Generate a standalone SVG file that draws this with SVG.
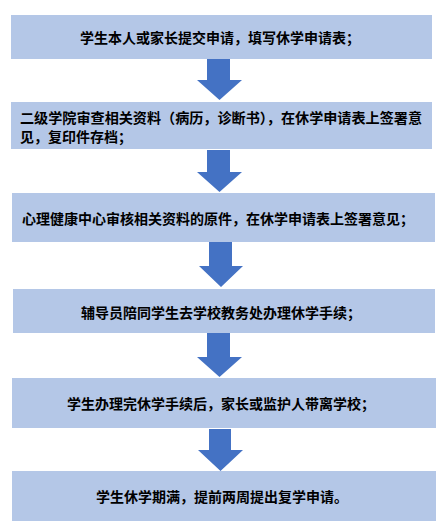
<svg xmlns="http://www.w3.org/2000/svg" width="447" height="528" viewBox="0 0 447 528">
<style>
.box{fill:#B4C7E7;}
.arr{fill:#4472C4;}
text{font-family:"Noto Sans CJK SC","Noto Sans",sans-serif;font-size:14px;font-weight:bold;fill:#000;dominant-baseline:central;}
.c{text-anchor:middle;}
</style>
<rect width="447" height="528" fill="#fff"/>
<g id="n1"><rect class="box" x="11" y="15" width="421" height="44"/><text class="c" x="220" y="37">学生本人或家长提交申请，填写休学申请表；</text></g>
<g id="n2"><rect class="box" x="11" y="102" width="421" height="47"/><text x="20" y="117" textLength="402" lengthAdjust="spacingAndGlyphs">二级学院审查相关资料（病历，诊断书），在休学申请表上签署意</text><text x="20" y="136">见，复印件存档；</text></g>
<g id="n3"><rect class="box" x="12" y="193" width="423" height="49"/><text x="22" y="218">心理健康中心审核相关资料的原件，在休学申请表上签署意见；</text></g>
<g id="n4"><rect class="box" x="13" y="289" width="422" height="44"/><text class="c" x="221" y="312">辅导员陪同学生去学校教务处办理休学手续；</text></g>
<g id="n5"><rect class="box" x="12" y="378" width="424" height="50"/><text class="c" x="221" y="403">学生办理完休学手续后，家长或监护人带离学校；</text></g>
<g id="n6"><rect class="box" x="12" y="471" width="424" height="50"/><text class="c" x="222" y="496">学生休学期满，提前两周提出复学申请。</text></g>
<g id="connectors">
<polygon class="arr" points="207,59 230,59 230,80 242,80 219.5,100 197,80 207,80"/>
<polygon class="arr" points="207,150 230,150 230,172 242,172 219.5,192 197,172 207,172"/>
<polygon class="arr" points="209,242 232,242 232,266 243,266 221,287 199,266 209,266"/>
<polygon class="arr" points="207,333 230,333 230,357 242,357 219.5,377 197,357 207,357"/>
<polygon class="arr" points="209,429 231,429 231,450 243,450 220.5,471 198,450 209,450"/>
</g>
</svg>
